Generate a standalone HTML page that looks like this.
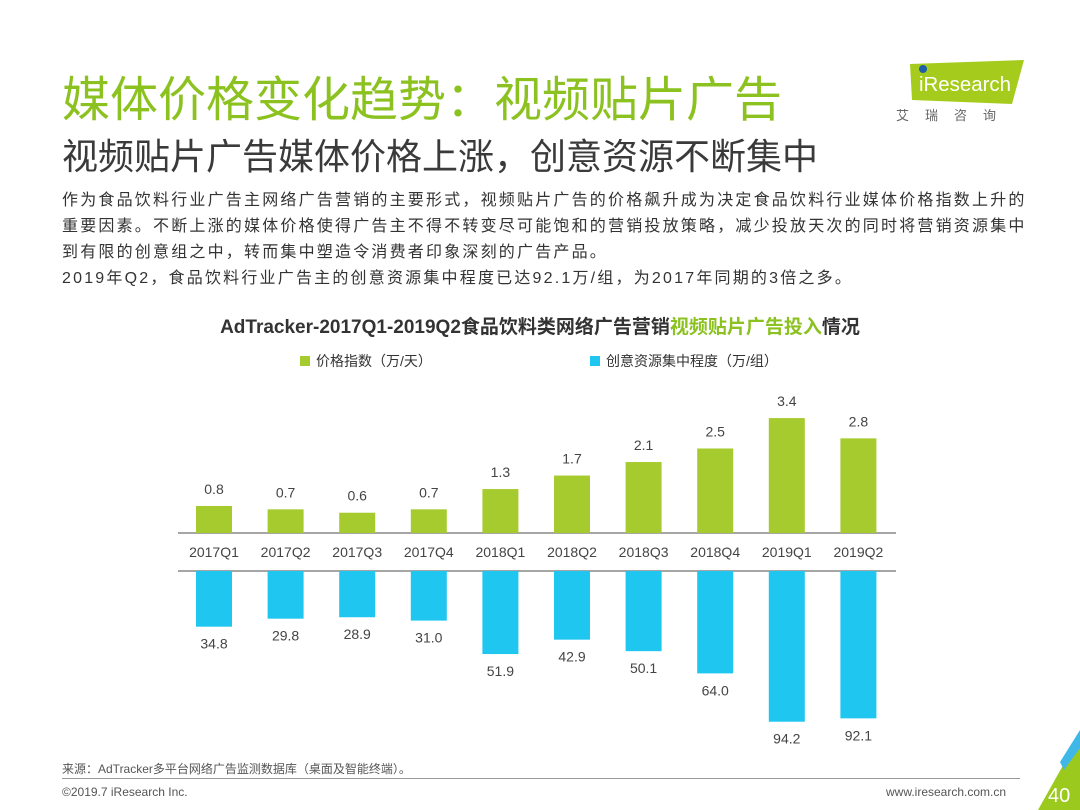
<!DOCTYPE html>
<html><head><meta charset="utf-8">
<style>
body{margin:0;width:1080px;height:810px;background:#fff;position:relative;overflow:hidden;font-family:"Liberation Sans","Noto Sans CJK SC",sans-serif;}
.t{position:absolute;white-space:nowrap;}
</style></head><body>
<div class="t" style="left:62px;top:60px;font-size:48px;color:#8cc220;">媒体价格变化趋势：视频贴片广告</div>
<div class="t" style="left:62px;top:128px;font-size:36px;color:#3a3a3a;">视频贴片广告媒体价格上涨，创意资源不断集中</div>
<div style="position:absolute;left:888px;top:56px;width:150px;height:70px;">
<svg width="150" height="70"><polygon points="22,8 136,4 124,48 24,44" fill="#a5cc1c"/><circle cx="35" cy="13" r="4" fill="#1f5fa8"/><text x="31" y="35" font-size="20" fill="#fff" font-family="Liberation Sans" textLength="92" lengthAdjust="spacingAndGlyphs">iResearch</text><text x="8" y="64" font-size="13" fill="#666" font-family="Noto Sans CJK SC" letter-spacing="16">艾瑞咨询</text></svg></div>
<div class="t" style="left:62px;top:188px;font-size:16px;line-height:26px;color:#333;letter-spacing:2.2px;">作为食品饮料行业广告主网络广告营销的主要形式，视频贴片广告的价格飙升成为决定食品饮料行业媒体价格指数上升的<br>重要因素。不断上涨的媒体价格使得广告主不得不转变尽可能饱和的营销投放策略，减少投放天次的同时将营销资源集中<br>到有限的创意组之中，转而集中塑造令消费者印象深刻的广告产品。<br>2019年Q2，食品饮料行业广告主的创意资源集中程度已达92.1万/组，为2017年同期的3倍之多。</div>
<div class="t" style="left:0;width:1080px;text-align:center;top:312px;font-size:19px;font-weight:bold;color:#333;">AdTracker-2017Q1-2019Q2食品饮料类网络广告营销<span style="color:#8cc220">视频贴片广告投入</span>情况</div>
<svg id="chart" style="position:absolute;left:0;top:0" width="1080" height="810"></svg>
<div class="t" style="left:62px;top:760px;font-size:12px;color:#555;">来源：AdTracker多平台网络广告监测数据库（桌面及智能终端）。</div>
<div style="position:absolute;left:62px;top:778px;width:958px;height:1px;background:#999;"></div>
<div class="t" style="left:62px;top:785px;font-size:12px;color:#555;">©2019.7 iResearch Inc.</div>
<div class="t" style="left:886px;top:785px;font-size:12px;color:#555;">www.iresearch.com.cn</div>
<svg style="position:absolute;left:1020px;top:730px" width="60" height="80"><polygon points="60,5 60,80 18,80" fill="#9bc91e"/><polygon points="60,0 60,18 44,40 40,32" fill="#3fb8e8"/><text x="28" y="72" font-size="20" fill="#fff" font-family="Liberation Sans">40</text></svg>
<script>
const categories=["2017Q1","2017Q2","2017Q3","2017Q4","2018Q1","2018Q2","2018Q3","2018Q4","2019Q1","2019Q2"];
const priceIndex=[0.8,0.7,0.6,0.7,1.3,1.7,2.1,2.5,3.4,2.8];
const concentration=[34.8,29.8,28.9,31.0,51.9,42.9,50.1,64.0,94.2,92.1];
const svg=document.getElementById('chart');
const NS='http://www.w3.org/2000/svg';
function mk(t,a){const e=document.createElementNS(NS,t);for(const k in a)e.setAttribute(k,a[k]);svg.appendChild(e);return e;}
const x0=214,step=71.6,bw=36;
function xs(i){return x0+i*step;}
const topBase=533,botBase=571;
function yTop(v){return topBase-v*33.8;}
function yBot(v){return botBase+v*1.6;}
let l=mk('line',{x1:178,x2:896,y1:topBase,y2:topBase,stroke:'#888','stroke-width':1.5});


l=mk('line',{x1:178,x2:896,y1:botBase,y2:botBase,stroke:'#888','stroke-width':1.5});


let r=mk('rect',{x:300,y:356,width:10,height:10,fill:'#a6cb2e'});


let t=mk('text',{x:316,y:366,'font-size':14,fill:'#333'});t.textContent='价格指数（万/天）';


r=mk('rect',{x:590,y:356,width:10,height:10,fill:'#1fc6f0'});


t=mk('text',{x:606,y:366,'font-size':14,fill:'#333'});t.textContent='创意资源集中程度（万/组）';


categories.forEach((c,i)=>{
  const cx=xs(i);
  const yt=yTop(priceIndex[i]);
  let b=mk('rect',{x:cx-bw/2,y:yt,width:bw,height:topBase-yt,fill:'#a6cb2e'});
  
  
  let lb=mk('text',{x:cx,y:yt-12,'font-size':14,fill:'#444','text-anchor':'middle'});lb.textContent=priceIndex[i].toFixed(1);
  
  
  const yb=yBot(concentration[i]);
  b=mk('rect',{x:cx-bw/2,y:botBase,width:bw,height:yb-botBase,fill:'#1fc6f0'});
  
  
  lb=mk('text',{x:cx,y:yb+22,'font-size':14,fill:'#444','text-anchor':'middle'});lb.textContent=concentration[i].toFixed(1);
  
  
  const ct=mk('text',{x:cx,y:557,'font-size':14,fill:'#444','text-anchor':'middle'});ct.textContent=c;
  
  
});
</script>
</body></html>
